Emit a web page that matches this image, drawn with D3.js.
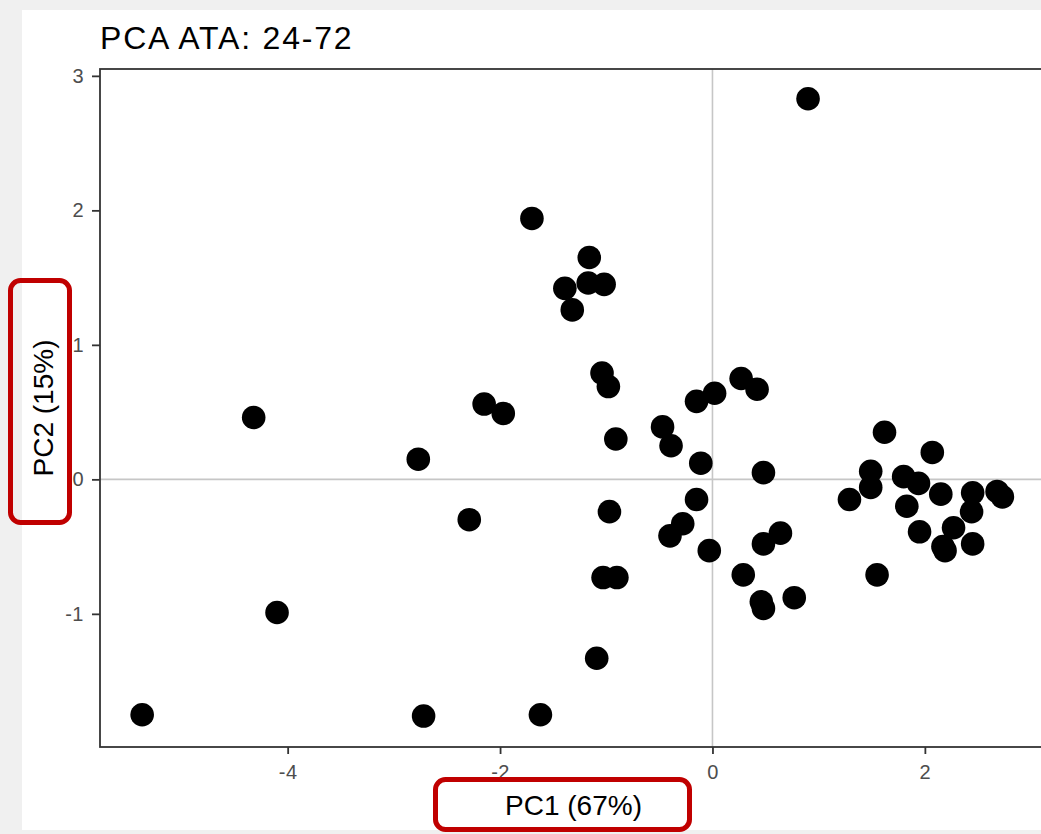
<!DOCTYPE html>
<html>
<head>
<meta charset="utf-8">
<script src="https://cdn.jsdelivr.net/npm/d3@7"></script>
<style>
  html, body { margin: 0; padding: 0; background: #f0f0f0; }
  svg { display: block; font-family: "Liberation Sans", Arial, sans-serif; }
</style>
</head>
<body>
<svg id="chart" width="1041" height="834"></svg>
<script>
// PCA scores: PC1 and PC2 per sample
const pc1 = [
  0.90, -1.70, -1.16, -1.39, -1.17, -1.02, -1.32, -1.04, -0.98, -4.32,
  -2.15, -1.97, -2.77, -0.91, -0.47, -0.39, -0.15, 0.02, 0.27, 0.42,
  -0.11, 0.48, -0.15, -2.29, -0.97, -0.28, -0.40, -0.03, 0.64, 0.48,
  -1.03, -0.90, 0.29, 0.46, 0.48, 0.77, -4.10, -1.09, -5.37, -2.72,
  -1.62, 1.62, 2.07, 1.49, 1.49, 1.29, 1.80, 1.94, 1.83, 2.15,
  2.45, 2.44, 2.68, 2.73, 1.95, 2.27, 2.17, 2.19, 2.45, 1.55
];
const pc2 = [
  2.83, 1.94, 1.65, 1.42, 1.46, 1.45, 1.26, 0.79, 0.69, 0.46,
  0.56, 0.49, 0.15, 0.30, 0.39, 0.25, 0.58, 0.64, 0.75, 0.67,
  0.12, 0.05, -0.15, -0.30, -0.24, -0.33, -0.42, -0.53, -0.40, -0.48,
  -0.73, -0.73, -0.71, -0.91, -0.96, -0.88, -0.99, -1.33, -1.75, -1.76,
  -1.75, 0.35, 0.20, 0.06, -0.06, -0.15, 0.02, -0.03, -0.20, -0.11,
  -0.10, -0.24, -0.09, -0.13, -0.39, -0.36, -0.50, -0.53, -0.48, -0.71
];
const xTicks = [-4, -2, 0, 2];
const yTicks = [-1, 0, 1, 2, 3];
const titleText = "PCA ATA: 24-72";
const xLabel = "PC1 (67%)";
const yLabel = "PC2 (15%)";

const svg = d3.select("#chart");
const W = 1041, H = 834;

// page background and white plot card
svg.append("rect").attr("width", W).attr("height", H).attr("fill", "#f0f0f0");
svg.append("rect").attr("x", 22).attr("y", 10).attr("width", W - 22).attr("height", 820).attr("fill", "#ffffff");

const panel = { left: 100, top: 69, right: 1047, bottom: 747 };

const x = d3.scaleLinear().domain([-5.767, 3.150]).range([panel.left, panel.right]);
const y = d3.scaleLinear().domain([-1.990, 3.051]).range([panel.bottom, panel.top]);

const clipId = "panel-clip";
svg.append("clipPath").attr("id", clipId)
  .append("rect").attr("x", panel.left).attr("y", panel.top)
  .attr("width", panel.right - panel.left).attr("height", panel.bottom - panel.top);

const plot = svg.append("g").attr("clip-path", `url(#${clipId})`);

// reference lines through the origin
plot.append("line")
  .attr("x1", x(0)).attr("x2", x(0)).attr("y1", panel.top).attr("y2", panel.bottom)
  .attr("stroke", "#c6c6c6").attr("stroke-width", 1.6);
plot.append("line")
  .attr("x1", panel.left).attr("x2", panel.right).attr("y1", y(0)).attr("y2", y(0))
  .attr("stroke", "#c6c6c6").attr("stroke-width", 1.6);

// sample points
const pts = pc1.map((v, i) => ({ pc1: v, pc2: pc2[i] }));
plot.selectAll("circle.pt").data(pts).enter().append("circle")
  .attr("class", "pt")
  .attr("cx", d => x(d.pc1))
  .attr("cy", d => y(d.pc2))
  .attr("r", 11.8)
  .attr("fill", "#000000");

// panel border
svg.append("rect")
  .attr("x", panel.left).attr("y", panel.top)
  .attr("width", panel.right - panel.left).attr("height", panel.bottom - panel.top)
  .attr("fill", "none").attr("stroke", "#333333").attr("stroke-width", 1.8);

// axes
const xAxis = svg.append("g")
  .attr("transform", `translate(0,${panel.bottom})`)
  .call(d3.axisBottom(x).tickValues(xTicks).tickSize(7).tickPadding(11).tickFormat(d => String(d)));
const yAxis = svg.append("g")
  .attr("transform", `translate(${panel.left},0)`)
  .call(d3.axisLeft(y).tickValues(yTicks).tickSize(8).tickPadding(8).tickFormat(d => String(d)));

[xAxis, yAxis].forEach(g => {
  g.select(".domain").remove();
  g.selectAll(".tick line").attr("stroke", "#333333").attr("stroke-width", 1.8);
  g.selectAll(".tick text")
    .attr("fill", "#4d4d4d")
    .style("font-size", "20px")
    .style("letter-spacing", "0.5px")
    .style("font-family", "'Liberation Sans', Arial, sans-serif");
});

// title
svg.append("text")
  .attr("x", 100).attr("y", 49)
  .attr("fill", "#000")
  .style("font-size", "32px")
  .style("letter-spacing", "1.8px")
  .text(titleText);

// axis titles
svg.append("text")
  .attr("x", (panel.left + panel.right) / 2).attr("y", 815)
  .attr("text-anchor", "middle")
  .attr("fill", "#000")
  .style("font-size", "28px")
  .text(xLabel);

svg.append("text")
  .attr("transform", `translate(53,${(panel.top + panel.bottom) / 2}) rotate(-90)`)
  .attr("text-anchor", "middle")
  .attr("fill", "#000")
  .style("font-size", "28px")
  .text(yLabel);

// highlight boxes around the axis titles
const boxColor = "#c00000";
svg.append("rect")
  .attr("x", 435.5).attr("y", 779.5).attr("width", 254).attr("height", 50)
  .attr("rx", 10).attr("ry", 10)
  .attr("fill", "none").attr("stroke", boxColor).attr("stroke-width", 5);
svg.append("rect")
  .attr("x", 10.5).attr("y", 280.5).attr("width", 59).attr("height", 242)
  .attr("rx", 10).attr("ry", 10)
  .attr("fill", "none").attr("stroke", boxColor).attr("stroke-width", 5);
</script>
</body>
</html>
